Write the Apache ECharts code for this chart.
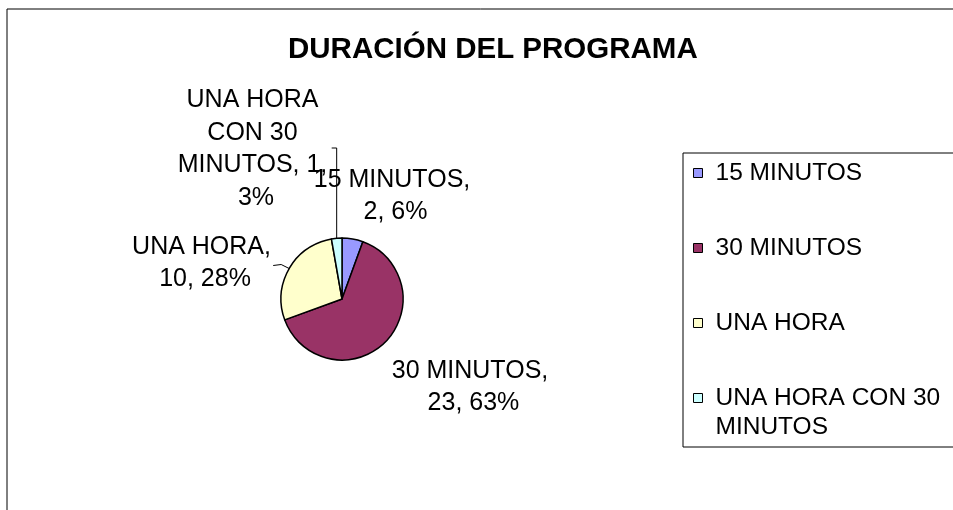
<!DOCTYPE html>
<html>
<head>
<meta charset="utf-8">
<script src="https://cdn.jsdelivr.net/npm/echarts@6/dist/echarts.min.js"></script>
<style>
  html, body { margin: 0; padding: 0; background: #fff; }
  #main { width: 953px; height: 510px; }
</style>
</head>
<body>
<div id="main"></div>
<script>
// datos del gráfico
var categories = ['15 MINUTOS', '30 MINUTOS', 'UNA HORA', 'UNA HORA CON 30 MINUTOS'];
var values = [2, 23, 10, 1];
var percentLabels = ['6%', '63%', '28%', '3%'];
var colors = ['#9999FF', '#993366', '#FFFFCC', '#CCFFFF'];

// posiciones de las etiquetas (centro del bloque de texto)
var labelPos = [[392, 196], [470, 387], [205, 263], [256, 149]];

var myChart = echarts.init(document.getElementById('main'));

var font = '"Liberation Sans", Arial, sans-serif';

var pieData = categories.map(function (name, i) {
  return {
    name: name,
    value: values[i],
    itemStyle: { color: colors[i] },
    labelLine: { show: i >= 2 }
  };
});

var option = {
  animation: false,
  backgroundColor: '#fff',
  title: {
    text: 'DURACIÓN DEL PROGRAMA',
    left: 288,
    top: 35,
    padding: 0,
    textStyle: { fontFamily: font, fontWeight: 'bold', fontSize: 29.5, color: '#000' }
  },
  legend: {
    orient: 'vertical',
    left: 693,
    top: 129.5,
    padding: 0,
    itemGap: -12,
    itemWidth: 9,
    itemHeight: 9,
    icon: 'rect',
    itemStyle: { borderColor: '#000', borderWidth: 1 },
    textStyle: { fontFamily: font, fontSize: 24.5, color: '#000', lineHeight: 29, padding: [0, 0, 0, 8] },
    // cada elemento ocupa tres líneas para que el icono quede junto a la primera línea del texto
    formatter: function (name) {
      if (name === 'UNA HORA CON 30 MINUTOS') return '\nUNA HORA CON 30\nMINUTOS';
      return '\n' + name + '\n';
    },
    data: categories
  },
  graphic: [{
    type: 'rect',
    shape: { x: 7, y: 9, width: 1200, height: 1200 },
    style: { fill: 'none', stroke: '#000', lineWidth: 1 },
    silent: true
  }, {
    type: 'rect',
    shape: { x: 683, y: 153, width: 400, height: 294 },
    style: { fill: 'none', stroke: '#000', lineWidth: 1 },
    silent: true
  }],
  series: [{
    type: 'pie',
    center: [342, 299],
    radius: 61,
    startAngle: 90,
    clockwise: true,
    itemStyle: { borderColor: '#000', borderWidth: 1.5 },
    label: {
      show: true,
      fontFamily: font,
      fontSize: 25,
      color: '#000',
      lineHeight: 32.5,
      width: 162,
      overflow: 'break',
      align: 'center',
      formatter: function (p) {
        return p.name + ', ' + p.value + ', ' + percentLabels[p.dataIndex];
      }
    },
    labelLine: { lineStyle: { color: '#000', width: 1 }, smooth: false },
    labelLayout: function (params) {
      var i = params.dataIndex;
      var res = { x: labelPos[i][0], y: labelPos[i][1], align: 'center', verticalAlign: 'middle' };
      if (i === 3) {
        var p = params.labelLinePoints;
        var sx = p ? p[0][0] : 337;
        var sy = p ? p[0][1] : 238;
        res.labelLinePoints = [[sx, sy], [sx, 148], [sx - 5, 148]];
      } else if (i === 2) {
        var q = params.labelLinePoints;
        var ax = q ? q[0][0] : 289;
        var ay = q ? q[0][1] : 268;
        res.labelLinePoints = [[ax, ay], [ax - 8, ay - 4], [ax - 16, ay - 3]];
      }
      return res;
    },
    emphasis: { disabled: true },
    data: pieData
  }]
};

myChart.setOption(option);
</script>
</body>
</html>
